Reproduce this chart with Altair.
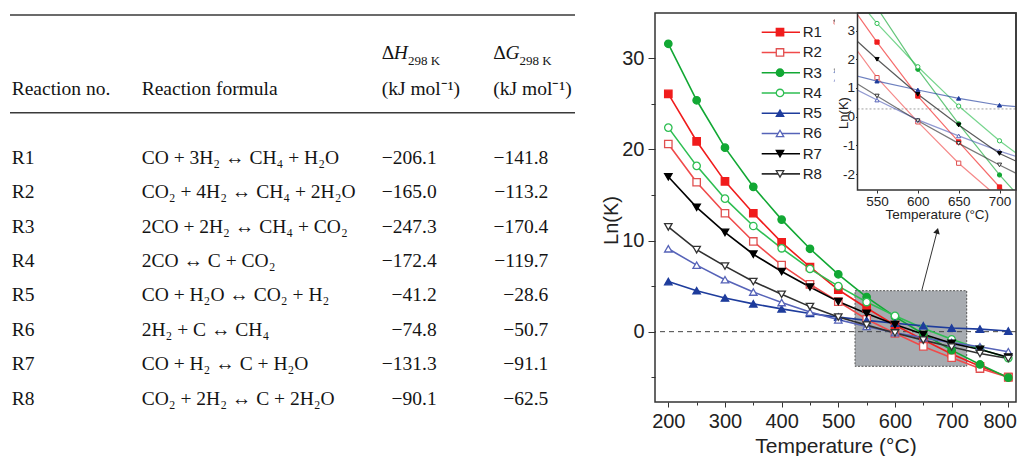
import altair as alt
import pandas as pd

# ---------------- table data ----------------
reaction_ids = ["R1", "R2", "R3", "R4", "R5", "R6", "R7", "R8"]
formulas = [
    "CO + 3H₂ ↔ CH₄ + H₂O",
    "CO₂ + 4H₂ ↔ CH₄ + 2H₂O",
    "2CO + 2H₂ ↔ CH₄ + CO₂",
    "2CO ↔ C + CO₂",
    "CO + H₂O ↔ CO₂ + H₂",
    "2H₂ + C ↔ CH₄",
    "CO + H₂ ↔ C + H₂O",
    "CO₂ + 2H₂ ↔ C + 2H₂O",
]
dH_298 = ["−206.1", "−165.0", "−247.3", "−172.4", "−41.2", "−74.8", "−131.3", "−90.1"]
dG_298 = ["−141.8", "−113.2", "−170.4", "−119.7", "−28.6", "−50.7", "−91.1", "−62.5"]

# ---------------- chart data ----------------
temps = [200, 250, 300, 350, 400, 450, 500, 550, 600, 650, 700, 750, 800]
lnK_R1 = [26.1, 20.9, 16.5, 13.0, 9.8, 7.1, 4.6, 2.6, 0.72, -0.88, -2.45, -3.8, -5.0]
lnK_R2 = [20.6, 16.4, 13.0, 9.9, 7.3, 5.2, 3.3, 1.36, -0.18, -1.62, -2.85, -4.05, -5.0]
lnK_R3 = [31.6, 25.4, 20.2, 15.9, 12.3, 9.1, 6.3, 3.8, 1.65, -0.25, -2.03, -3.6, -5.05]
lnK_R4 = [22.4, 18.2, 14.6, 11.6, 9.15, 6.9, 5.0, 3.25, 1.74, 0.37, -0.84, -1.9, -2.9]
lnK_R5 = [5.5, 4.5, 3.7, 3.05, 2.5, 2.0, 1.6, 1.24, 0.93, 0.64, 0.40, 0.28, 0.07]
lnK_R6 = [9.1, 7.3, 5.7, 4.35, 3.2, 2.15, 1.3, 0.58, -0.11, -0.67, -1.2, -1.65, -2.2]
lnK_R7 = [17.0, 13.65, 10.9, 8.5, 6.6, 4.9, 3.3, 2.0, 0.78, -0.29, -1.28, -1.95, -2.8]
lnK_R8 = [11.5, 9.0, 7.2, 5.5, 4.1, 2.75, 1.6, 0.72, -0.14, -0.93, -1.68, -2.4, -2.95]
series_values = [lnK_R1, lnK_R2, lnK_R3, lnK_R4, lnK_R5, lnK_R6, lnK_R7, lnK_R8]

main_x_ticks = list(range(200, 801, 50))
main_y_ticks = [-5, 0, 5, 10, 15, 20, 25, 30]
inset_x_ticks = [550, 600, 650, 700]
inset_y_ticks = [-2, -1, 0, 1, 2, 3]

# ---------------- styles ----------------
line_colors = ["#F01C1C", "#F04A4A", "#12A834", "#2EBE52", "#1E3C9C", "#5663B8", "#000000", "#303030"]
marker_fill = ["#F01C1C", "white", "#12A834", "white", "#1E3C9C", "white", "#000000", "white"]
marker_stroke = ["#F01C1C", "#E05050", "#12A834", "#2EBE52", "#1E3C9C", "#5663B8", "#000000", "#333333"]
marker_shape = ["square", "square", "circle", "circle", "triangle-up", "triangle-up",
                "triangle-down", "triangle-down"]

SERIF = "Liberation Serif"
SANS = "Liberation Sans"
INK = "#141414"
FRAME = "#333333"

long_rows = []
for name, vals in zip(reaction_ids, series_values):
    for t, v in zip(temps, vals):
        long_rows.append({"s": name, "T": t, "v": v})
df = pd.DataFrame(long_rows)

color_s = alt.Color("s:N", scale=alt.Scale(domain=reaction_ids, range=line_colors), legend=None)
fill_s = alt.Fill("s:N", scale=alt.Scale(domain=reaction_ids, range=marker_fill), legend=None)
stroke_s = alt.Stroke("s:N", scale=alt.Scale(domain=reaction_ids, range=marker_stroke), legend=None)
shape_s = alt.Shape("s:N", scale=alt.Scale(domain=reaction_ids, range=marker_shape), legend=None)

# ---------------- table ----------------
PAD_TOP = 4
TABLE_W, PLOT_H = 647, 389
# row index -> vertical position (rows are 34.43 px apart); table view top sits at page y = 8 + PAD_TOP
_row0 = 162.7 - (8 + PAD_TOP)
ts = alt.Scale(domain=[(PLOT_H - _row0) / 34.43, -_row0 / 34.43], nice=False, zero=False)
TY = alt.Y("r:Q", scale=ts, axis=None)


def ttext(txt, x, r, size=19.5, style="normal", align="left"):
    return alt.Chart(pd.DataFrame({"t": [txt], "r": [r]})).mark_text(
        align=align, baseline="alphabetic", font=SERIF, fontSize=size,
        fontStyle=style, color=INK
    ).encode(x=alt.value(x), y=TY, text="t:N")


rows_df = pd.DataFrame({"name": reaction_ids, "formula": formulas, "dH": dH_298,
                        "dG": dG_298, "r": list(range(len(reaction_ids)))})


def tcol(field, x, align):
    return alt.Chart(rows_df).mark_text(
        align=align, baseline="alphabetic", font=SERIF, fontSize=19.5, color=INK
    ).encode(x=alt.value(x), y=TY, text=f"{field}:N")


rules = alt.Chart(pd.DataFrame({"r": [-4.319, -1.481]})).mark_rule(
    color="#3a3a3a", strokeWidth=1.6
).encode(x=alt.value(2), x2=alt.value(567), y=TY)

H1, H2, HSUB = -3.032, -2.0, -2.881
table = alt.layer(
    rules,
    ttext("Reaction no.", 3.7, H2),
    ttext("Reaction formula", 133.7, H2),
    ttext("Δ", 373.7, H1),
    ttext("H", 385.8, H1, style="italic"),
    ttext("298 K", 400, HSUB, size=13),
    ttext("(kJ mol⁻¹)", 373.7, H2),
    ttext("Δ", 485.3, H1),
    ttext("G", 497.4, H1, style="italic"),
    ttext("298 K", 511.5, HSUB, size=13),
    ttext("(kJ mol⁻¹)", 485.3, H2),
    tcol("name", 3.7, "left"),
    tcol("formula", 133.7, "left"),
    tcol("dH", 428.7, "right"),
    tcol("dG", 540.3, "right"),
).properties(width=TABLE_W, height=PLOT_H)

# ---------------- main plot ----------------
MAIN_W = 361
MAIN_T = [176.5, 813.6]
MAIN_V = [-7.72, 34.98]
xs = alt.Scale(domain=MAIN_T, nice=False, zero=False)
ys = alt.Scale(domain=MAIN_V, nice=False, zero=False)
xax = alt.Axis(
    values=main_x_ticks, title="Temperature (°C)", domain=False, grid=False, orient="bottom",
    labelExpr="datum.value % 100 == 0 ? datum.label : ''",
    tickSize={"condition": {"test": "datum.value % 100 == 0", "value": 5}, "value": 3},
    labelFontSize=20, labelPadding=4, titleFontSize=21, titlePadding=4,
    labelFlush=10, labelFlushOffset=8,
)
yax = alt.Axis(
    values=main_y_ticks, title="Ln(K)", domain=False, grid=False, orient="left",
    labelExpr="datum.value % 10 == 0 ? datum.label : ''",
    tickSize={"condition": {"test": "datum.value % 10 == 0", "value": 7}, "value": 4},
    labelFontSize=20, labelPadding=4, titleFontSize=20,
    titleX=-43.3, titleY=207, titleBaseline="middle", titleAlign="center",
)


def MX(field="T"):
    return alt.X(f"{field}:Q", scale=xs, axis=None)


def MY(field="v"):
    return alt.Y(f"{field}:Q", scale=ys, axis=None)


# zoom box and arrow (annotation positions in data units)
BOX_T0, BOX_T1, BOX_V0, BOX_V1 = 529.5, 726.6, -3.8, 4.5
ARROW_T0, ARROW_V0, ARROW_T1, ARROW_V1 = 647.2, 4.5, 674.6, 11.06

box = alt.Chart(pd.DataFrame({"T": [BOX_T0], "T2": [BOX_T1], "v": [BOX_V0], "v2": [BOX_V1]})).mark_rect(
    fill="#A7ABB0", stroke="#555555", strokeWidth=1, strokeDash=[2, 1.5]
).encode(x=MX(), x2="T2:Q", y=MY(), y2="v2:Q")

zero = alt.Chart(pd.DataFrame({"v": [0]})).mark_rule(
    color="#444444", strokeWidth=1, strokeDash=[5, 4]
).encode(y=MY())

lines = alt.Chart(df).mark_line(strokeWidth=1.6).encode(
    x=alt.X("T:Q", scale=xs, axis=xax), y=alt.Y("v:Q", scale=ys, axis=yax),
    color=color_s, detail="s:N")
pts = alt.Chart(df).mark_point(filled=True, opacity=1, size=55, strokeWidth=1.3).encode(
    x=MX(), y=MY(), fill=fill_s, stroke=stroke_s, shape=shape_s)

# legend (placed in data coordinates)
LEG_T0, LEG_T1, LEG_TM, LEG_TT = 364.8, 432.4, 397.1, 437.2
LEG_V0, LEG_DV = 32.87, 2.222
leg_df = pd.DataFrame({
    "s": reaction_ids,
    "T": [LEG_T0] * 8, "T2": [LEG_T1] * 8, "Tm": [LEG_TM] * 8, "Tt": [LEG_TT] * 8,
    "v": [LEG_V0 - LEG_DV * i for i in range(8)],
})
leg_lines = alt.Chart(leg_df).mark_rule(strokeWidth=1.6).encode(x=MX(), x2="T2:Q", y=MY(), color=color_s)
leg_pts = alt.Chart(leg_df).mark_point(filled=True, opacity=1, size=55, strokeWidth=1.3).encode(
    x=MX("Tm"), y=MY(), fill=fill_s, stroke=stroke_s, shape=shape_s)
leg_txt = alt.Chart(leg_df).mark_text(
    align="left", baseline="middle", font=SANS, fontSize=15, color="#222222"
).encode(x=MX("Tt"), y=MY(), text="s:N")

arrow = alt.Chart(pd.DataFrame({"T": [ARROW_T0], "T2": [ARROW_T1], "v": [ARROW_V0], "v2": [ARROW_V1]})).mark_rule(
    color="#333333", strokeWidth=1
).encode(x=MX(), x2="T2:Q", y=MY(), y2="v2:Q")
head = alt.Chart(pd.DataFrame({"T": [ARROW_T1], "v": [ARROW_V1]})).mark_point(
    shape="triangle-up", filled=True, size=45, angle=15, color="#222222", opacity=1
).encode(x=MX(), y=MY())

main_frame = alt.Chart(pd.DataFrame({"T": [MAIN_T[0]], "T2": [MAIN_T[1]], "v": [MAIN_V[0]], "v2": [MAIN_V[1]]})).mark_rect(
    fillOpacity=0, stroke=FRAME, strokeWidth=1.5
).encode(x=MX(), x2="T2:Q", y=MY(), y2="v2:Q")

# ---------------- inset (same view, own scales placed by range) ----------------
INSET_PX = [202.5, MAIN_W]      # left/right of the inset inside the plot, px
INSET_PY = [177, 0]             # bottom/top of the inset inside the plot, px
INSET_T = [526.1, 720.2]
INSET_V = [-2.554, 3.613]
ixs = alt.Scale(domain=INSET_T, range=INSET_PX, nice=False, zero=False)
iys = alt.Scale(domain=INSET_V, range=INSET_PY, nice=False, zero=False)
ixax = alt.Axis(values=inset_x_ticks, title="Temperature (°C)", domain=False, grid=False,
                orient="bottom", offset=-(PLOT_H - INSET_PY[0]), zindex=1,
                tickSize=3, labelFontSize=13.5, labelPadding=1, titleFontSize=13.5, titlePadding=0)
iyax = alt.Axis(values=inset_y_ticks, title="Ln(K)", domain=False, grid=False,
                orient="left", offset=-INSET_PX[0], zindex=1,
                labelExpr="datum.value < 0 ? '-' + abs(datum.value) : datum.label",
                tickSize=2, labelFontSize=13.5, labelPadding=1, titleFontSize=13,
                titleX=-14, titleY=99.5, titleBaseline="middle", titleAlign="center")


def IX(field="T"):
    return alt.X(f"{field}:Q", scale=ixs, axis=None)


def IY(field="v"):
    return alt.Y(f"{field}:Q", scale=iys, axis=None)


inset_box = pd.DataFrame({"T": [INSET_T[0]], "T2": [INSET_T[1]], "v": [INSET_V[0]], "v2": [INSET_V[1]]})
ibg = alt.Chart(inset_box).mark_rect(fill="white").encode(x=IX(), x2="T2:Q", y=IY(), y2="v2:Q")
idot = alt.Chart(pd.DataFrame({"T": [INSET_T[0]], "T2": [INSET_T[1]], "v": [0.27]})).mark_rule(
    color="#A0A0A0", strokeWidth=1, strokeDash=[2, 2]
).encode(x=IX(), x2="T2:Q", y=IY())
inset_df = df[(df["T"] >= 500) & (df["T"] <= 750)]
ilines = alt.Chart(inset_df).mark_line(strokeWidth=1.2, opacity=0.65, clip=True).encode(
    x=alt.X("T:Q", scale=ixs, axis=ixax), y=alt.Y("v:Q", scale=iys, axis=iyax),
    color=color_s, detail="s:N")
ipts = alt.Chart(inset_df).mark_point(filled=True, opacity=1, size=18, strokeWidth=1, clip=True).encode(
    x=IX(), y=IY(), fill=fill_s, stroke=stroke_s, shape=shape_s)

# white masks that hide the inset lines where they run past the inset frame
MASK_T_LEFT, MASK_V_BOTTOM = 498, -3.53
mask_df = pd.DataFrame({
    "T": [MASK_T_LEFT, MASK_T_LEFT], "T2": [INSET_T[0], INSET_T[1]],
    "v": [INSET_V[0], MASK_V_BOTTOM], "v2": [INSET_V[1], INSET_V[0]],
})
imask = alt.Chart(mask_df).mark_rect(fill="white").encode(x=IX(), x2="T2:Q", y=IY(), y2="v2:Q")
iframe = alt.Chart(inset_box).mark_rect(fillOpacity=0, stroke=FRAME, strokeWidth=1.5).encode(
    x=IX(), x2="T2:Q", y=IY(), y2="v2:Q")

main = alt.layer(
    box, zero, lines, pts, leg_lines, leg_pts, leg_txt, arrow, head,
    ibg, idot, ilines, ipts, imask, iframe, main_frame
).resolve_scale(x="independent", y="independent").resolve_axis(
    x="independent", y="independent"
).properties(width=MAIN_W, height=PLOT_H)

chart = alt.hconcat(table, main, spacing=0, bounds="flush").properties(
    padding={"left": 0, "top": PAD_TOP, "right": 0, "bottom": 0}
).configure_view(strokeWidth=0).configure_axis(
    labelFont=SANS, titleFont=SANS, labelColor="#222222", titleColor="#222222",
    tickColor="#333333", titleFontWeight="normal"
)

chart.save("out.html", embed_options={"renderer": "svg", "actions": False})
